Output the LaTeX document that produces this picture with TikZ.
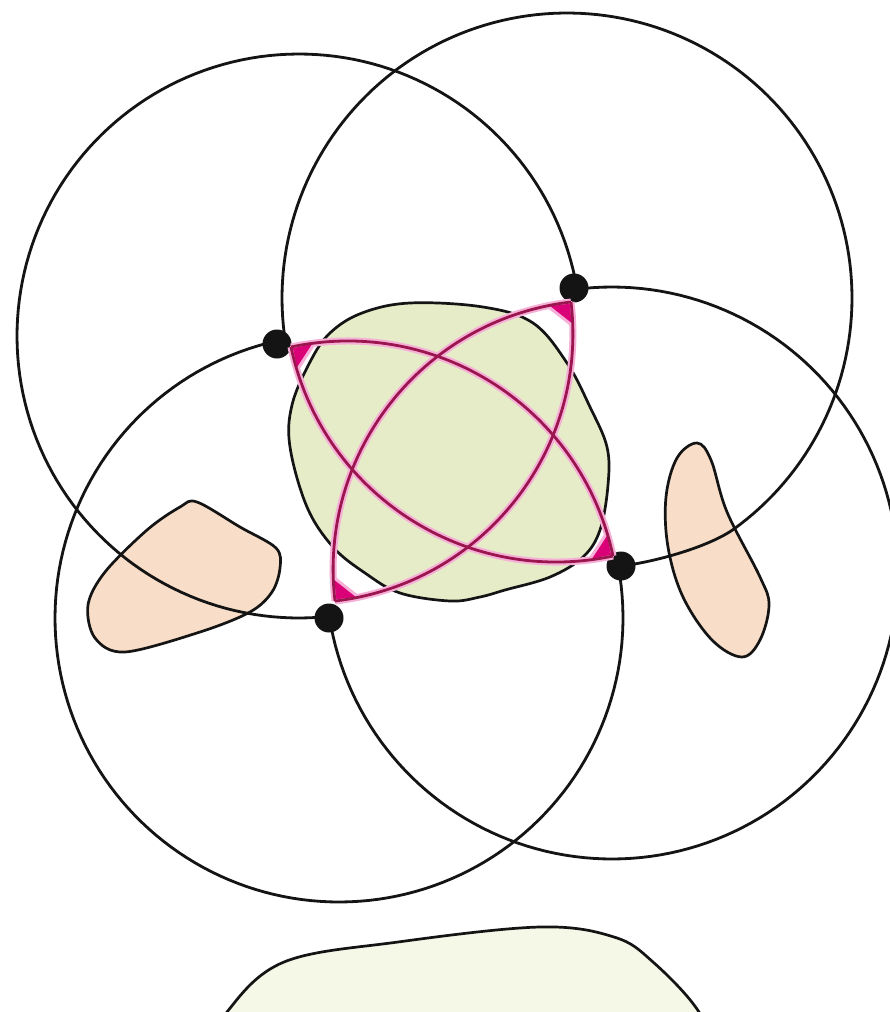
\documentclass[tikz,border=0pt]{standalone}
\usetikzlibrary{calc}
\definecolor{blobgreen}{RGB}{229,236,199}
\definecolor{peach}{RGB}{248,222,200}
\definecolor{palegreen}{RGB}{245,248,230}
\definecolor{pinkline}{RGB}{155,22,78}
\definecolor{pinkfill}{RGB}{218,0,120}
\definecolor{pinkglow}{RGB}{246,175,215}
\definecolor{ink}{RGB}{20,20,20}
\begin{document}
\begin{tikzpicture}[x=1pt,y=-1pt,
  circ/.style={line width=2.8pt, draw=ink},
  blob/.style={draw=ink, line width=2.7pt},
  glow/.style={line width=7pt, draw=pinkglow},
  pline/.style={line width=2.8pt, draw=pinkline},
  dotfill/.style={fill=ink}]
\path[use as bounding box] (0,0) rectangle (890,1012);
\clip (0,0) rectangle (890,1012);
\fill[white] (0,0) rectangle (890,1012);

% dots (junctions)
\coordinate (dTL) at (277,344);
\coordinate (dTR) at (574,288);
\coordinate (dBR) at (621,566);
\coordinate (dBL) at (329,618);

% peach blobs
\filldraw[blob, fill=peach] plot[smooth cycle, tension=0.55] coordinates {
  (197,502) (240,527) (276,548) (280,568) (272,592) (250,612) (200,632) (125,652)
  (95,638) (88,605) (105,572) (147,530) (180,507)};
\filldraw[blob, fill=peach] plot[smooth cycle, tension=0.6] coordinates {
  (697,443) (711,460) (727,512) (760,577) (769,605) (760,640) (742,657)
  (712,640) (683,597) (668,547) (666,497) (677,458)};

% green blob
\filldraw[blob, fill=blobgreen] plot[smooth cycle, tension=0.6] coordinates {
  (410,303) (483,307) (533,323) (567,363) (590,407) (607,447) (608,485)
  (600,530) (583,557) (550,577) (505,590) (480,597) (450,601) (400,593)
  (365,573) (333,547) (307,507) (290,447) (292,405) (310,362) (330,333) (362,313)};

% bottom blob
\filldraw[blob, fill=palegreen] plot[smooth, tension=0.6] coordinates {
  (205,1060) (227,1012) (284,962) (398,942) (540,927) (614,937) (653,962) (699,1012) (715,1060)} -- cycle;

% four big circles (each missing the quadrant toward the centre)
\draw[circ] (dTR) -- plot[domain=-9.9:-276.1, samples=140] ({299+282*cos(\x)},{336+282*sin(\x)}) -- (dBL);
\draw[circ] (dTL) -- plot[domain=171:414.4, samples=140] ({567+285*cos(\x)},{298+285*sin(\x)})
  .. controls (708,547) and (655,562) .. (dBR);
\draw[circ] (dTL) -- plot[domain=257.3:-10.4, samples=140] ({339+284*cos(\x)},{618+284*sin(\x)}) -- (dBR);
\draw[circ] (dTR) -- plot[domain=-97.6:171, samples=140] ({612+286*cos(\x)},{573+286*sin(\x)}) -- (dBL);

\foreach \d in {dTL,dTR,dBR,dBL} \fill[dotfill] (\d) circle[radius=14.5];

% pink figure
\coordinate (pTL) at (291,347);
\coordinate (pTR) at (571,302);
\coordinate (pBR) at (613,556);
\coordinate (pBL) at (335,601);

\foreach \a/\b in {pTL/pBR,pTR/pBL} {
  \draw[glow] (\a) to[bend left=45] (\b);
  \draw[glow] (\a) to[bend right=45] (\b);
}
\foreach \p/\u/\v in {pTL/-12/78, pBR/168/258, pTR/83.3/173.3, pBL/-96.7/-6.7} {
  \filldraw[draw=pinkglow, line width=3pt, line join=round, fill=pinkfill]
    (\p) -- ($(\p)+(\u:25)$) -- ($(\p)+(\v:25)$) -- cycle;
}
\foreach \a/\b in {pTL/pBR,pTR/pBL} {
  \draw[pline] (\a) to[bend left=45] (\b);
  \draw[pline] (\a) to[bend right=45] (\b);
}
\end{tikzpicture}
\end{document}
